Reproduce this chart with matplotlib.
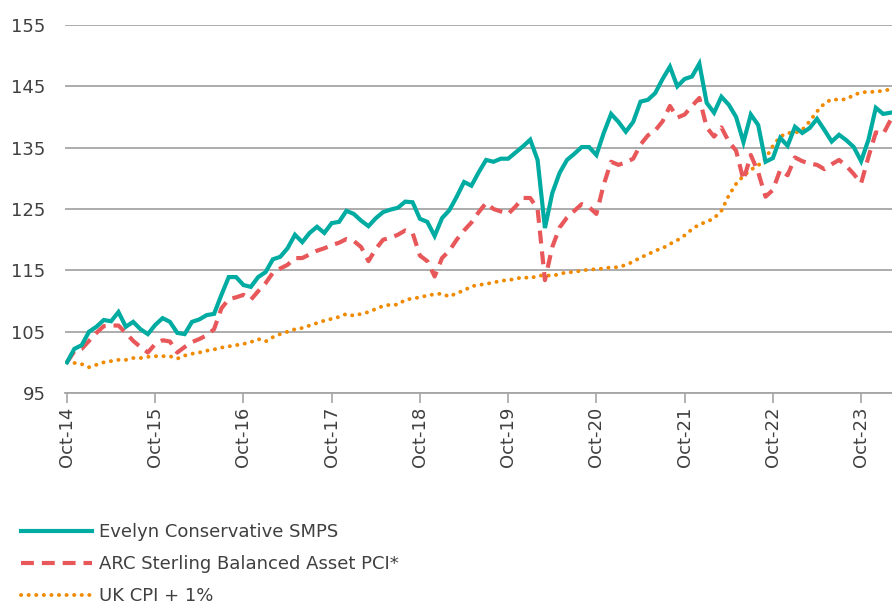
import matplotlib
matplotlib.use("Agg")
import matplotlib.pyplot as plt
from matplotlib.lines import Line2D

plt.rcParams['font.family'] = ['DejaVu Sans']

tick_labels = ["Oct-14", "Oct-15", "Oct-16", "Oct-17", "Oct-18",
               "Oct-19", "Oct-20", "Oct-21", "Oct-22", "Oct-23"]

evelyn = [100, 102.2, 102.8, 105, 105.8, 106.9, 106.7, 108.2, 105.8, 106.6,
          105.4, 104.6, 106.1, 107.2, 106.6, 104.8, 104.6, 106.6, 107, 107.7,
          107.9, 111, 113.9, 113.9, 112.6, 112.3, 113.9, 114.7, 116.8, 117.2,
          118.6, 120.8, 119.6, 121.1, 122.1, 121.1, 122.7, 122.9, 124.7, 124.2,
          123.1, 122.2, 123.5, 124.5, 124.9, 125.2, 126.2, 126.1, 123.4, 122.9,
          120.6, 123.5, 124.8, 127, 129.4, 128.8, 131, 133, 132.7, 133.2,
          133.2, 134.2, 135.2, 136.3, 133, 121.9, 127.6, 130.9, 133, 134,
          135.1, 135.1, 133.8, 137.4, 140.5, 139.2, 137.6, 139.2, 142.5, 142.8,
          143.9, 146.2, 148.2, 145, 146.2, 146.6, 148.7, 142.3, 140.7, 143.3,
          142, 140, 135.9, 140.4, 138.7, 132.7, 133.3, 136.6, 135.3, 138.4,
          137.4, 138.2, 139.7, 137.9, 136, 137.1, 136.2, 135.1, 132.8, 136.3,
          141.5, 140.5, 140.7]

arc = [100, 101.8, 102.2, 103.5, 104.8, 105.9, 106, 106, 104.8, 103.5,
       102.5, 101.6, 103, 103.6, 103.4, 101.6, 102.5, 103.3, 103.8, 104.4,
       105.4, 108.8, 110.3, 110.6, 111, 110.2, 111.6, 112.9, 114.6, 115.3,
       115.9, 117, 117, 117.6, 118.2, 118.6, 119.1, 119.5, 120.1, 119.8,
       118.8, 116.5, 118.5, 120, 120.3, 120.8, 121.5, 121.1, 117.4, 116.5,
       114, 117, 118.2, 120, 121.5, 122.8, 124.5, 126, 125, 124.6,
       124.2, 125.4, 126.8, 126.8, 125, 113.4, 118.8, 122, 123.6, 124.7,
       125.8, 125.3, 124.2, 129, 132.7, 132.2, 132.6, 133.2, 135.5, 137,
       137.8, 139.3, 141.8, 139.9, 140.4, 141.8, 143.1, 138.3, 136.8, 138.3,
       136, 134.5, 129.7, 133.8, 131, 127, 128.1, 131.4, 130.5, 133.4,
       132.8, 132.4, 132.2, 131.5, 132.3, 133, 132, 130.7, 129.2, 133.5,
       137.5, 137.2, 139.5]

cpi = [100, 99.9, 99.7, 99.2, 99.6, 100, 100.2, 100.4, 100.4, 100.7,
       100.7, 100.9, 101, 101, 101, 100.6, 101.1, 101.4, 101.6, 101.9,
       102.1, 102.4, 102.6, 102.8, 103, 103.3, 103.8, 103.4, 104.1, 104.6,
       105, 105.4, 105.6, 106, 106.4, 106.8, 107.1, 107.4, 107.9, 107.6,
       107.9, 108.2, 108.7, 109.2, 109.4, 109.4, 110.2, 110.4, 110.6, 110.9,
       111.1, 111.2, 110.7, 111.3, 111.7, 112.4, 112.6, 112.8, 113, 113.3,
       113.4, 113.6, 113.9, 113.7, 114.1, 114.2, 114.1, 114.4, 114.7, 114.7,
       115, 115.1, 115.2, 115.3, 115.5, 115.5, 115.9, 116.4, 117.1, 117.6,
       118.2, 118.6, 119.3, 119.9, 120.7, 121.7, 122.5, 122.9, 123.5, 124.7,
       127.2, 129.1, 130.4, 131.4, 132.1, 133.2, 135.3, 136.8, 137.4, 137.4,
       137.9, 139.3, 140.9, 142.2, 142.9, 142.8, 142.9, 143.6, 144.0, 144.1,
       144.1, 144.3, 144.5]

series_names = ["Evelyn Conservative SMPS", "ARC Sterling Balanced Asset PCI*", "UK CPI + 1%"]
colors = ["#00ABA1", "#E8585A", "#F08A00"]

months = list(range(len(evelyn)))

fig = plt.figure(figsize=(8.92, 6.02), dpi=100)
ax = fig.add_axes([65/892, 1 - 393/602, 1 - 65/892, (393 - 25)/602])

ax.plot(months, cpi, color=colors[2], lw=2.8, linestyle=(0, (0.05, 1.9)),
        dash_capstyle='round', zorder=3)
ax.plot(months, arc, color=colors[1], lw=3.0, linestyle=(0, (3.1, 1.9)),
        dash_capstyle='butt', zorder=4)
ax.plot(months, evelyn, color=colors[0], lw=3.0, solid_joinstyle='miter', zorder=5)

ax.set_ylim(95, 155)
ax.set_yticks([95, 105, 115, 125, 135, 145, 155])
ax.set_xlim(-0.27, 112.2)
ax.set_xticks([12 * i for i in range(len(tick_labels))])
ax.set_xticklabels(tick_labels, rotation=90)

ax.grid(axis='y', color='#A6A6A6', lw=1.3)
ax.set_axisbelow(True)
for s in ['left', 'right', 'top']:
    ax.spines[s].set_visible(False)
ax.spines['bottom'].set_color('#A6A6A6')
ax.spines['bottom'].set_linewidth(1.3)
ax.tick_params(axis='y', length=0, labelsize=13, labelcolor='#404040', pad=14)
ax.tick_params(axis='x', length=7, width=1.2, color='#A6A6A6', labelsize=13,
               labelcolor='#404040', pad=3)

handles = [Line2D([], [], color=colors[0], lw=3.0),
           Line2D([], [], color=colors[1], lw=3.0, linestyle=(0, (3.1, 1.9))),
           Line2D([], [], color=colors[2], lw=2.8, linestyle=(0, (0.05, 1.9)),
                  dash_capstyle='round')]
fig.legend(handles, series_names, loc='upper left', bbox_to_anchor=(0.016, 0.143),
           frameon=False, fontsize=13, labelcolor='#404040', handlelength=3.9,
           handletextpad=0.4, labelspacing=0.78, borderaxespad=0)

fig.savefig("out.png", dpi=100)
